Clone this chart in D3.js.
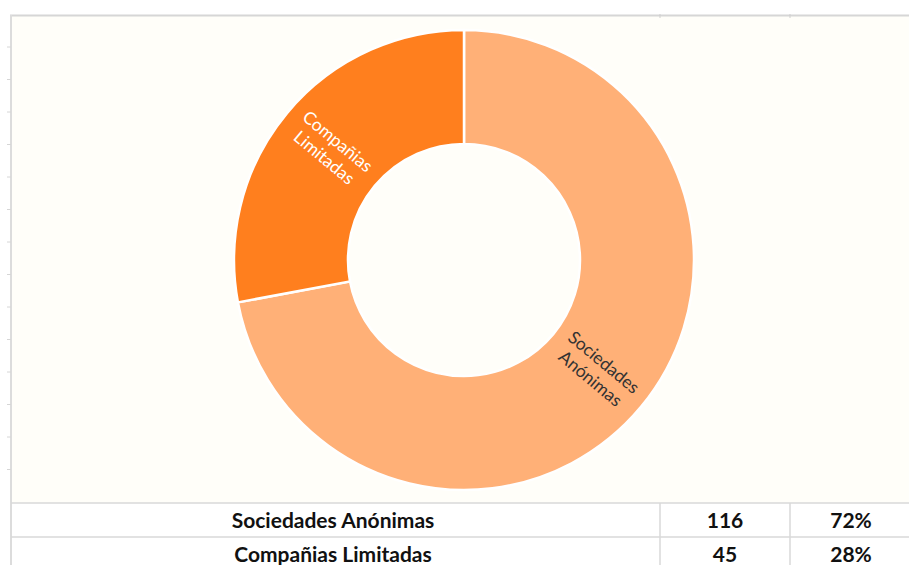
<!DOCTYPE html>
<html>
<head>
<meta charset="utf-8">
<script src="https://cdn.jsdelivr.net/npm/d3@7"></script>
<style>
  body { margin: 0; background: #fff; }
  svg { display: block; }
</style>
</head>
<body>
<svg id="chart" width="909" height="565"></svg>
<script>
// data read from the sheet
var categories = ["Sociedades Anónimas", "Compañias Limitadas"];
var labelLines = [["Sociedades", "Anónimas"], ["Compañias", "Limitadas"]];
var counts = [116, 45];
var shares = ["72%", "28%"];

var colors = ["#FFB077", "#FF7F1E"];
var labelColors = ["#333333", "#ffffff"];

var svg = d3.select("#chart");
var W = 909, H = 565;

// sheet background + borders
svg.append("rect").attr("x", 11).attr("y", 16).attr("width", W - 11).attr("height", 487)
    .attr("fill", "#FFFEF9");
svg.append("line").attr("x1", 10).attr("x2", W).attr("y1", 15.5).attr("y2", 15.5)
    .attr("stroke", "#d6d6d6").attr("stroke-width", 2);
svg.append("line").attr("x1", 11).attr("x2", 11).attr("y1", 15).attr("y2", H)
    .attr("stroke", "#dcdcdc").attr("stroke-width", 2);
[660, 790].forEach(function (x) {
    svg.append("line").attr("x1", x).attr("x2", x).attr("y1", 14).attr("y2", 18)
        .attr("stroke", "#cfcfcf").attr("stroke-width", 1);
});
// row ticks on the left edge
d3.range(47, 500, 32.5).forEach(function (y) {
    svg.append("line").attr("x1", 7).attr("x2", 11).attr("y1", y).attr("y2", y)
        .attr("stroke", "#d6d6d6").attr("stroke-width", 1);
});

// donut
var cx = 464, cy = 260, outerR = 230, innerR = 116;
var pie = d3.pie().sort(null).value(function (d) { return d; });
var arc = d3.arc().innerRadius(innerR).outerRadius(outerR);
var arcs = pie(counts);

var g = svg.append("g").attr("transform", "translate(" + cx + "," + cy + ")");
g.selectAll("path").data(arcs).enter().append("path")
    .attr("d", arc)
    .attr("fill", function (d, i) { return colors[i]; })
    .attr("stroke", "#ffffff")
    .attr("stroke-width", 2.5);

var labelArc = d3.arc().innerRadius((innerR + outerR) / 2).outerRadius((innerR + outerR) / 2);
g.selectAll("text.lbl").data(arcs).enter().append("text")
    .attr("class", "lbl")
    .attr("transform", function (d) {
        var c = labelArc.centroid(d);
        var a = (d.startAngle + d.endAngle) / 2 * 180 / Math.PI - 90;
        if (a > 90) a -= 180;
        return "translate(" + c[0] + "," + c[1] + ") rotate(" + a + ")";
    })
    .attr("text-anchor", "middle")
    .attr("font-family", "Lato, 'Open Sans', sans-serif")
    .attr("font-size", 17.5)
    .attr("fill", function (d, i) { return labelColors[i]; })
    .each(function (d, i) {
        var t = d3.select(this);
        labelLines[i].forEach(function (s, k) {
            t.append("tspan").attr("x", 0).attr("y", (k - 0.5) * 21 + 6).text(s);
        });
    });

// table rows
var rowTop = 503, rowH = 34;
var tb = svg.append("g");
tb.append("rect").attr("x", 12).attr("y", rowTop).attr("width", W - 12).attr("height", H - rowTop)
    .attr("fill", "#ffffff");
[rowTop, rowTop + rowH].forEach(function (y) {
    tb.append("line").attr("x1", 11).attr("x2", W).attr("y1", y).attr("y2", y)
        .attr("stroke", "#d9d9d9").attr("stroke-width", 1.5);
});
[660, 790].forEach(function (x) {
    tb.append("line").attr("x1", x).attr("x2", x).attr("y1", rowTop).attr("y2", H)
        .attr("stroke", "#d9d9d9").attr("stroke-width", 1.5);
});
var colX = [333, 725, 851];
categories.forEach(function (c, i) {
    var y = rowTop + rowH * i + 25;
    [c, counts[i], shares[i]].forEach(function (v, j) {
        tb.append("text").attr("x", colX[j]).attr("y", y)
            .attr("text-anchor", "middle")
            .attr("font-family", "Lato, 'Open Sans', sans-serif")
            .attr("font-weight", "bold")
            .attr("font-size", 21)
            .attr("fill", "#111")
            .text(v);
    });
});
</script>
</body>
</html>
